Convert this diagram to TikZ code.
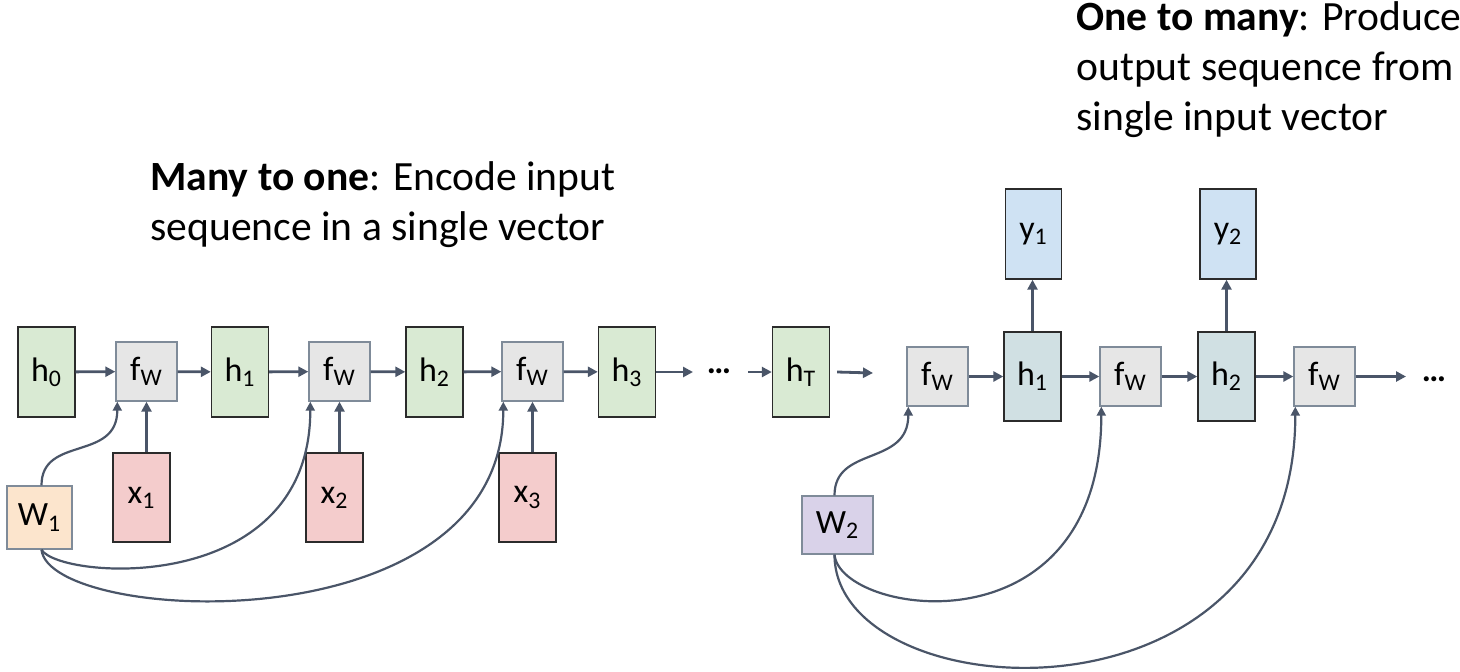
\documentclass[tikz,border=0pt]{standalone}
\usepackage{fontspec}
\setmainfont{Carlito}
\usepackage{tikz}
\usetikzlibrary{arrows.meta,positioning}
\definecolor{rnnslate}{HTML}{4A5568}
\definecolor{rnnframe}{HTML}{7F8B99}
\definecolor{rnndark}{HTML}{2B2B2B}
\definecolor{rnngreen}{HTML}{D9EAD3}
\definecolor{rnngray}{HTML}{E6E6E6}
\definecolor{rnnred}{HTML}{F4CCCC}
\definecolor{rnnorange}{HTML}{FCE5CD}
\definecolor{rnnpurple}{HTML}{D9D2E9}
\definecolor{rnnblue}{HTML}{CFE2F3}
\definecolor{rnncyan}{HTML}{D0E0E3}
\tikzset{
  box/.style={draw=rnndark,line width=0.7pt,inner sep=0pt,font=\fontsize{17}{20}\selectfont},
  hbox/.style={box,fill=rnngreen,minimum width=28.5pt,minimum height=45pt},
  fbox/.style={box,draw=rnnframe,fill=rnngray,minimum width=30.5pt,minimum height=29.5pt},
  xbox/.style={box,fill=rnnred,minimum width=28.5pt,minimum height=44.5pt},
  ybox/.style={box,fill=rnnblue,minimum width=28pt,minimum height=45pt},
  obox/.style={box,fill=rnncyan,minimum width=28.5pt,minimum height=44.5pt},
  wbox/.style={box,draw=rnnframe},
  dotsnode/.style={inner sep=0pt,anchor=base,font=\fontsize{17}{20}\selectfont\bfseries},
  headtext/.style={align=left,inner sep=0pt,anchor=base west,font=\fontsize{20.8}{25}\selectfont},
  ar/.style={-{Triangle[length=5pt,width=5pt]},draw=rnnslate,line width=1.4pt},
  arc/.style={ar,line width=1.1pt,-{Triangle[length=4.5pt,width=4.5pt]}},
}
\begin{document}
\begin{tikzpicture}[x=0.5pt,y=-0.5pt]
  \useasboundingbox (0,0) rectangle (1460,671);
  % many to one
  \node[headtext] (t1) at (150,240) {\textbf{Many to one}: Encode input\\sequence in a single vector};
  \node[hbox] (h0) at (46.5,372) {h\textsubscript{0}};
  \foreach \i/\fx/\hx in {1/146.5/240, 2/339.5/434.5, 3/532.5/627} {
    \node[fbox] (f\i) at (\fx,371.5) {f\textsubscript{W}};
    \node[hbox] (h\i) at (\hx,372) {h\textsubscript{\i}};
    \node[xbox] (x\i) at (\fx-5,497.5) {x\textsubscript{\i}};
  }
  \foreach \i [evaluate=\i as \p using int(\i-1)] in {1,2,3} {
    \draw[ar] (h\p) -- (f\i);
    \draw[ar] (f\i) -- (h\i);
    \draw[ar] (x\i.north -| f\i) -- (f\i);
  }
  \coordinate (h3out) at (693,372);
  \node[dotsnode] (dots1) at (719,373) {…};
  \coordinate (hTin) at (748,372);
  \node[hbox] (hT) at (801,372) {h\textsubscript{T}};
  \coordinate (hTout) at (873,373);
  \draw[ar] (h3) -- (h3out);
  \draw[ar] (hTin) -- (hT);
  \draw[ar] ([xshift=3.5pt]hT.east) -- (hTout);
  % shared weights W1
  \node[wbox,fill=rnnorange,minimum width=32.5pt,minimum height=31.5pt] (w1) at (39.5,517.5) {W\textsubscript{1}};
  \draw[arc] ([xshift=1pt]w1.north) .. controls +(0,-50) and +(0,60) .. ([xshift=1pt]f1.south west);
  \draw[arc] ([xshift=1pt]w1.south) .. controls +(18,30) and +(0,196) .. ([xshift=1pt]f2.south west);
  \draw[arc] ([xshift=1pt]w1.south) .. controls +(8,75) and +(0,246) .. ([xshift=1pt]f3.south west);
  % one to many
  \node[headtext] (t2) at (1076,130) {\textbf{One to many}: Produce\\output sequence from\\single input vector};
  \foreach \i/\fx/\hx/\yx in {1/937.5/1032.5/1033.5, 2/1130.5/1226.5/1228} {
    \node[fbox] (fo\i) at (\fx,376.5) {f\textsubscript{W}};
    \node[obox] (ho\i) at (\hx,376.5) {h\textsubscript{\i}};
    \node[ybox] (y\i) at (\yx,234) {y\textsubscript{\i}};
    \draw[ar] (fo\i) -- (ho\i);
    \draw[ar] (ho\i) -- (ho\i |- y\i.south);
  }
  \node[fbox] (fo3) at (1324.5,376.5) {f\textsubscript{W}};
  \draw[ar] (ho1) -- (fo2);
  \draw[ar] (ho2) -- (fo3);
  \coordinate (fo3out) at (1406,376.5);
  \draw[ar] (fo3) -- (fo3out);
  \node[dotsnode] (dots2) at (1434,381) {…};
  % shared weights W2
  \node[wbox,fill=rnnpurple,minimum width=35.5pt,minimum height=29pt] (w2) at (837.5,525) {W\textsubscript{2}};
  \draw[arc] ([xshift=-1.5pt]w2.north) .. controls +(0,-50) and +(0,60) .. ([xshift=1pt]fo1.south west);
  \draw[arc] ([xshift=-1.5pt]w2.south) .. controls +(6,61) and +(0,249) .. ([xshift=1pt]fo2.south west);
  \draw[arc] ([xshift=-1.5pt]w2.south) .. controls +(0,156) and +(0,334) .. ([xshift=1pt]fo3.south west);
\end{tikzpicture}
\end{document}
